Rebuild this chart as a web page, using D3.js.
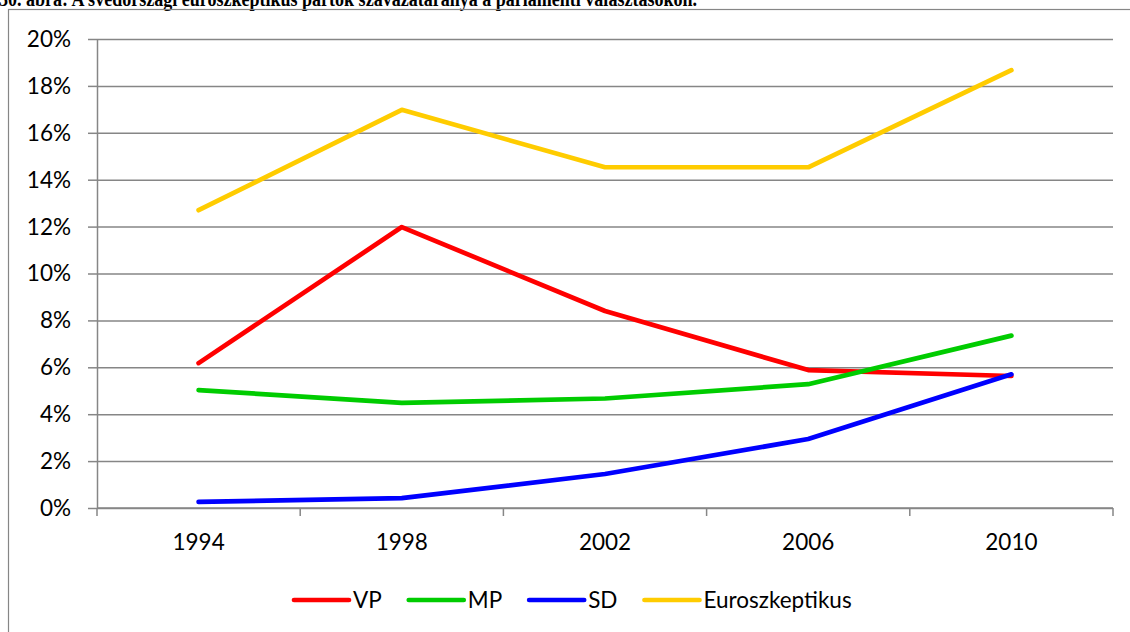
<!DOCTYPE html>
<html>
<head>
<meta charset="utf-8">
<script src="https://cdn.jsdelivr.net/npm/d3@7"></script>
<style>
  html, body { margin: 0; padding: 0; background: #fff; overflow: hidden; }
  svg { display: block; }
</style>
</head>
<body>
<div id="chart"></div>
<script>
// data (share of votes)
const years = ["1994", "1998", "2002", "2006", "2010"];
const vp = [0.0618, 0.1198, 0.0840, 0.0588, 0.0563];
const mp = [0.0503, 0.0448, 0.0467, 0.0528, 0.0735];
const sd = [0.0026, 0.0042, 0.0145, 0.0294, 0.0570];
const euro = [0.1270, 0.1698, 0.1453, 0.1453, 0.1867];
const yTicks = [0, 0.02, 0.04, 0.06, 0.08, 0.10, 0.12, 0.14, 0.16, 0.18, 0.20];
const seriesNames = ["VP", "MP", "SD", "Euroszkeptikus"];
const seriesColors = ["#ff0000", "#00cc00", "#0000ff", "#ffcc00"];
const title = "30. ábra: A svédországi euroszkeptikus pártok szavazataránya a parlamenti választásokon.";

const width = 1130, height = 632;
const plot = { left: 97, right: 1113, top: 39, bottom: 508 };
const gridColor = "#868686";
const font = "Lato, 'Open Sans', sans-serif";
const fontSize = 22.5;

const svg = d3.select("#chart")
  .append("svg")
  .attr("width", width)
  .attr("height", height);

// title, its top is cut by the page edge like in the source
svg.append("text")
  .attr("x", -1)
  .attr("y", 6)
  .attr("font-family", "'Liberation Serif', 'Times New Roman', serif")
  .attr("font-weight", "bold")
  .attr("font-size", 20)
  .attr("textLength", 698)
  .attr("lengthAdjust", "spacingAndGlyphs")
  .attr("fill", "#000")
  .text(title);

// chart frame
svg.append("rect")
  .attr("x", 8.5)
  .attr("y", 9.5)
  .attr("width", 1140)
  .attr("height", 640)
  .attr("fill", "none")
  .attr("stroke", gridColor)
  .attr("stroke-width", 1.2);

const x = d3.scaleBand()
  .domain(years)
  .range([plot.left, plot.right])
  .padding(0);

const y = d3.scaleLinear()
  .domain([0, 0.2])
  .range([plot.bottom, plot.top]);

// gridlines + y axis
const yAxis = d3.axisLeft(y)
  .tickValues(yTicks)
  .tickSize(9)
  .tickPadding(17)
  .tickFormat(d3.format(".0%"));

const gy = svg.append("g")
  .attr("transform", `translate(${plot.left},0)`)
  .call(yAxis);

gy.select(".domain")
  .attr("stroke", gridColor)
  .attr("stroke-width", 1.5)
  .attr("d", `M0.5,${plot.top}V${plot.bottom}`);
gy.selectAll(".tick line")
  .attr("stroke", gridColor)
  .attr("stroke-width", 1.5);
gy.selectAll(".tick")
  .append("line")
  .attr("x1", 0)
  .attr("x2", plot.right - plot.left)
  .attr("stroke", gridColor)
  .attr("stroke-width", 1.5);
gy.selectAll(".tick text")
  .attr("font-family", font)
  .attr("font-size", fontSize)
  .attr("fill", "#000")
  .attr("dy", "0.33em");

// x axis with ticks on the category boundaries
const gx = svg.append("g")
  .attr("transform", `translate(0,${plot.bottom})`);

gx.append("line")
  .attr("x1", plot.left)
  .attr("x2", plot.right)
  .attr("stroke", gridColor)
  .attr("stroke-width", 1.5);

const bounds = years.map(d => x(d)).concat([x(years[years.length - 1]) + x.bandwidth()]);
gx.selectAll("line.tk")
  .data(bounds)
  .enter()
  .append("line")
  .attr("class", "tk")
  .attr("x1", d => d)
  .attr("x2", d => d)
  .attr("y1", 0)
  .attr("y2", 8)
  .attr("stroke", gridColor)
  .attr("stroke-width", 1.5);

gx.selectAll("text")
  .data(years)
  .enter()
  .append("text")
  .attr("x", d => x(d) + x.bandwidth() / 2)
  .attr("y", 41.5)
  .attr("text-anchor", "middle")
  .attr("font-family", font)
  .attr("font-size", fontSize)
  .attr("fill", "#000")
  .text(d => d);

// lines
const allSeries = [vp, mp, sd, euro];
const line = d3.line()
  .x((d, i) => x(years[i]) + x.bandwidth() / 2)
  .y(d => y(d));

svg.append("g")
  .selectAll("path")
  .data(allSeries)
  .enter()
  .append("path")
  .attr("d", d => line(d))
  .attr("fill", "none")
  .attr("stroke", (d, i) => seriesColors[i])
  .attr("stroke-width", 4.7)
  .attr("stroke-linecap", "round")
  .attr("stroke-linejoin", "round");

// legend
const legend = svg.append("g").attr("transform", "translate(294,600)");
let lx = 0;
seriesNames.forEach((name, i) => {
  const item = legend.append("g").attr("transform", `translate(${lx},0)`);
  item.append("line")
    .attr("x1", 0)
    .attr("x2", 55)
    .attr("stroke", seriesColors[i])
    .attr("stroke-width", 4.7)
    .attr("stroke-linecap", "round");
  const t = item.append("text")
    .attr("x", 59)
    .attr("dy", "0.36em")
    .attr("font-family", font)
    .attr("font-size", fontSize)
    .attr("fill", "#000")
    .text(name);
  lx += 59 + t.node().getComputedTextLength() + 27;
});
</script>
</body>
</html>
